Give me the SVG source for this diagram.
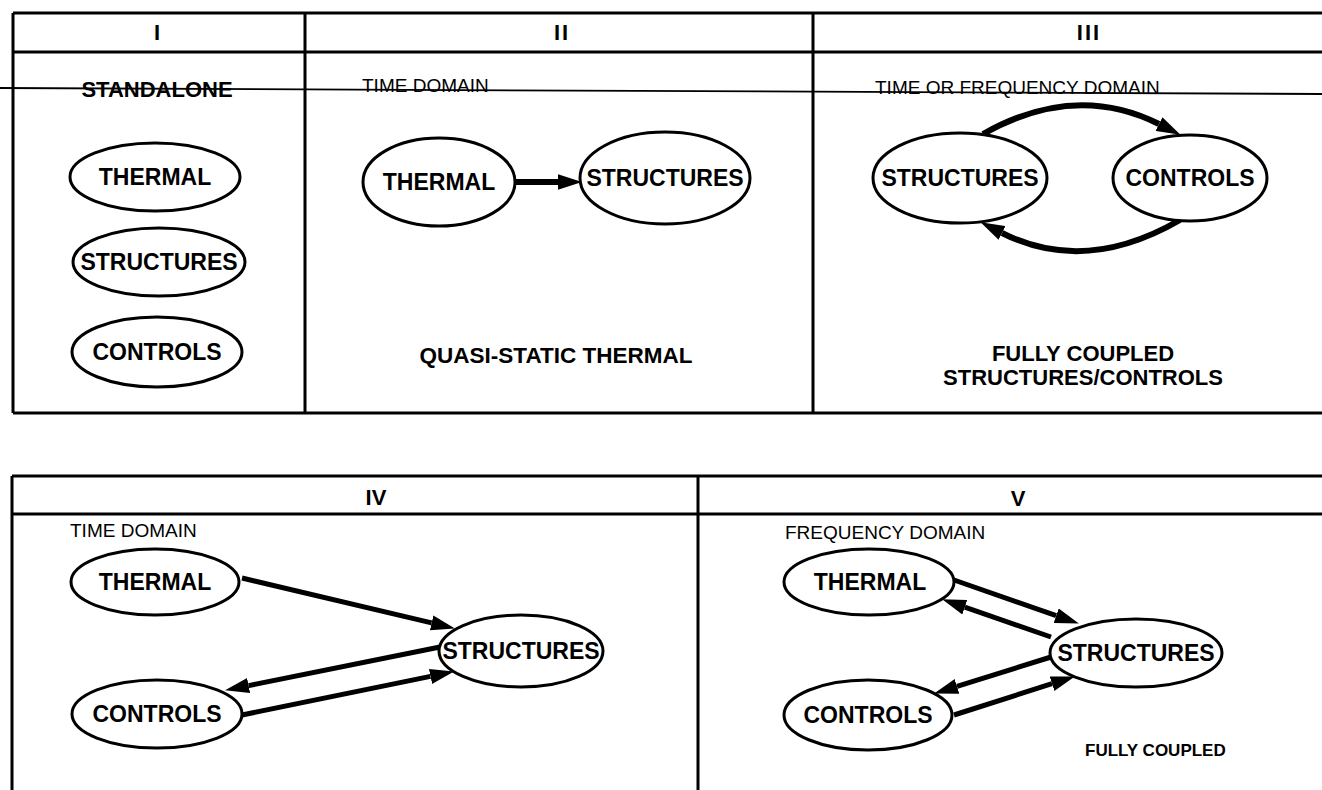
<svg xmlns="http://www.w3.org/2000/svg" width="1322" height="790" viewBox="0 0 1322 790">
<defs>
<style>
.frame{stroke:#000;stroke-width:3;fill:none}
.thin{stroke:#000;stroke-width:1.8;fill:none}
.node{fill:#fff;stroke:#000;stroke-width:3}
.lbl{font-family:"Liberation Sans",Arial,sans-serif;font-weight:bold;font-size:23px;fill:#000;text-anchor:middle}
.hdr{font-family:"Liberation Sans",Arial,sans-serif;font-weight:bold;font-size:22px;fill:#000;text-anchor:middle}
.sm{font-family:"Liberation Sans",Arial,sans-serif;font-size:19px;fill:#000}
.smb{font-family:"Liberation Sans",Arial,sans-serif;font-weight:bold;font-size:17px;fill:#000}
.conn{stroke:#000;stroke-width:5;fill:none;marker-end:url(#ah)}
.arc{stroke:#000;stroke-width:6;fill:none;marker-end:url(#ah)}
</style>
<marker id="ah" markerUnits="userSpaceOnUse" markerWidth="24" markerHeight="16" refX="0" refY="7" orient="auto" viewBox="0 0 22 14">
<path d="M0,0 L22,7 L0,14 z" fill="#000"/>
</marker>
</defs>
<rect width="1322" height="790" fill="#fff"/>

<g id="frames">
<path class="frame" d="M13,13 H1322 M13,52 H1322 M13,413 H1322 M13,13 V413 M305,13 V413 M813,13 V413"/>
<path class="thin" d="M0,88 L1322,94"/>
<path class="frame" d="M12,476 H1322 M12,514 H1322 M12,476 V790 M698,476 V790"/>
</g>

<g id="headers">
<text class="hdr" x="157" y="40">I</text>
<text class="hdr" x="562" y="40" style="letter-spacing:2px">II</text>
<text class="hdr" x="1089" y="40" style="letter-spacing:2px">III</text>
<text class="hdr" x="376" y="505">IV</text>
<text class="hdr" x="1018" y="506">V</text>
</g>

<g id="captions">
<text class="lbl" x="157" y="97" style="font-size:22px">STANDALONE</text>
<text class="sm" x="362" y="92">TIME DOMAIN</text>
<text class="sm" x="875" y="94">TIME OR FREQUENCY DOMAIN</text>
<text class="lbl" x="556" y="363" style="font-size:22.5px">QUASI-STATIC THERMAL</text>
<text class="lbl" x="1083" y="361" style="font-size:22px">FULLY COUPLED</text>
<text class="lbl" x="1083" y="385" style="font-size:22px">STRUCTURES/CONTROLS</text>
<text class="sm" x="70" y="537">TIME DOMAIN</text>
<text class="sm" x="785" y="539">FREQUENCY DOMAIN</text>
<text class="smb" x="1085" y="756">FULLY COUPLED</text>
</g>

<g id="connectors">
<path class="conn" d="M515,182 L558,182" style="stroke-width:6"/>
<path class="arc" d="M983,134 Q1075,82 1159,124"/>
<path class="arc" d="M1180,220 Q1085,275 1002,233"/>
<path class="conn" d="M242,578 L431.6,622.9"/>
<path class="conn" d="M440,647 L248.6,685.6"/>
<path class="conn" d="M242,715 L430.5,676.4"/>
<path class="conn" d="M954,580 L1056.2,615.7"/>
<path class="conn" d="M1051,637 L964.8,607.2"/>
<path class="conn" d="M1051,657 L957,686.4"/>
<path class="conn" d="M954,715 L1052,683.7"/>
</g>

<g id="n1-thermal"><ellipse class="node" cx="155" cy="177" rx="85" ry="34"/><text class="lbl" x="155" y="185">THERMAL</text></g>
<g id="n1-structures"><ellipse class="node" cx="159" cy="262" rx="86" ry="34"/><text class="lbl" x="159" y="270">STRUCTURES</text></g>
<g id="n1-controls"><ellipse class="node" cx="157" cy="352" rx="85" ry="35"/><text class="lbl" x="157" y="360">CONTROLS</text></g>

<g id="n2-thermal"><ellipse class="node" cx="439" cy="182" rx="76" ry="44"/><text class="lbl" x="439" y="190">THERMAL</text></g>
<g id="n2-structures"><ellipse class="node" cx="665" cy="178" rx="85" ry="46"/><text class="lbl" x="665" y="186">STRUCTURES</text></g>

<g id="n3-structures"><ellipse class="node" cx="960" cy="178" rx="87" ry="45"/><text class="lbl" x="960" y="186">STRUCTURES</text></g>
<g id="n3-controls"><ellipse class="node" cx="1190" cy="178" rx="77" ry="43"/><text class="lbl" x="1190" y="186">CONTROLS</text></g>

<g id="n4-thermal"><ellipse class="node" cx="155" cy="582" rx="84" ry="33"/><text class="lbl" x="155" y="590">THERMAL</text></g>
<g id="n4-structures"><ellipse class="node" cx="521" cy="651" rx="82" ry="36"/><text class="lbl" x="521" y="659">STRUCTURES</text></g>
<g id="n4-controls"><ellipse class="node" cx="157" cy="714" rx="85" ry="34"/><text class="lbl" x="157" y="722">CONTROLS</text></g>

<g id="n5-thermal"><ellipse class="node" cx="869" cy="582" rx="85" ry="33"/><text class="lbl" x="870" y="590">THERMAL</text></g>
<g id="n5-structures"><ellipse class="node" cx="1136" cy="653" rx="86" ry="34"/><text class="lbl" x="1136" y="661">STRUCTURES</text></g>
<g id="n5-controls"><ellipse class="node" cx="868" cy="715" rx="84" ry="35"/><text class="lbl" x="868" y="723">CONTROLS</text></g>
</svg>
